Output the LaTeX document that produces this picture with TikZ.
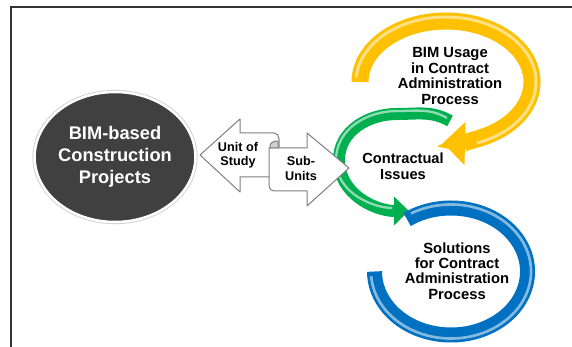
\documentclass[tikz,border=0pt]{standalone}
\usepackage{fontspec}
\setmainfont{Liberation Sans}
\usetikzlibrary{arrows.meta,shapes.geometric}

\begin{document}
\begin{tikzpicture}[x=0.03cm, y=0.03cm]
    % Define colors
    \definecolor{hubgray}{HTML}{404040}
    \definecolor{loopyellow}{HTML}{FFC000}
    \definecolor{loopgreen}{HTML}{00B050}
    \definecolor{loopblue}{HTML}{0070C0}
    \definecolor{edgegray}{HTML}{7F7F7F}

    % Styles for the texts and the shapes
    \tikzset{
      hub/.style={ellipse, fill=hubgray, draw=white, line width=0.075cm, inner sep=0pt,
        minimum width=4.8cm, minimum height=3.9cm, text=white, align=center,
        font=\fontsize{15.6}{18.8}\selectfont\bfseries,
        preaction={draw=gray!35, line width=0.13cm}},
      looptext/.style={align=center, font=\fontsize{12.6}{13.1}\selectfont\bfseries},
      arrowtext/.style={align=center, font=\fontsize{10.8}{12}\selectfont\bfseries},
      scrollbox/.style={fill=white, draw=edgegray, line width=0.03cm, line join=round}
    }

    % Fix the page size
    \useasboundingbox (0,0) rectangle (572,347);

    % Frame line (cut at right and bottom)
    \draw[line width=0.04cm, black!80] (11,0) -- (11,340) -- (572,340);

    % Centres of the loops
    \coordinate (usageC) at (446,265);
    \coordinate (solveC) at (451,75.5);

    % Yellow loop, ends in an arrow pointing left
    \draw[loopyellow, line width=0.51cm, -{Triangle[length=0.66cm, width=1.26cm]}]
      (usageC) ++(180:2.58cm and 1.83cm) arc[start angle=180, end angle=-92, x radius=2.58cm, y radius=1.83cm];
    \draw[loopyellow!35!white, line width=0.09cm, opacity=0.8]
      (usageC) ++(176:2.7cm and 1.95cm) arc[start angle=176, end angle=-70, x radius=2.7cm, y radius=1.95cm];

    % Green loop, ends in an arrow pointing right
    \draw[loopgreen, line width=0.36cm, -{Triangle[length=0.45cm, width=0.84cm]}]
      (450,226) to[out=150, in=0] (397,233) to[out=180, in=90] (339,187) to[out=-90, in=180] (409,136);
    \draw[loopgreen!30!white, line width=0.07cm, opacity=0.8, shorten >=0.5cm]
      (447,229) to[out=150, in=0] (397,236) to[out=180, in=90] (336,187) to[out=-90, in=180] (409,139);

    % Blue loop
    \draw[loopblue, line width=0.45cm]
      (solveC) ++(125:2.295cm and 1.905cm) arc[start angle=125, end angle=-180, x radius=2.295cm, y radius=1.905cm];
    \draw[loopblue!35!white, line width=0.08cm, opacity=0.8]
      (solveC) ++(120:2.4cm and 2.01cm) arc[start angle=120, end angle=-176, x radius=2.4cm, y radius=2.01cm];

    % Central hub
    \node[hub] (projects) at (115,190) {BIM-based\\Construction\\Projects};

    % Left arrow of the scroll
    \filldraw[scrollbox] (270,170) -- (240,170) -- (240,155) -- (200,192) -- (240,228) -- (240,214)
      -- (274,214) to[out=0, in=90] (279,208) -- (279,199) -- (270,199) -- cycle;
    % Right arrow of the scroll
    \filldraw[scrollbox] (269,199) -- (307,199) -- (307,214) -- (349,179) -- (307,141) -- (307,156)
      -- (274,156) to[out=180, in=-90] (269,161) -- cycle;
    % Curl of the scroll
    \filldraw[scrollbox, fill=gray!35] (270,199) -- (278,199) -- (278,206) to[out=180, in=90] (270,201) -- cycle;

    % Texts
    \node[arrowtext] (unit) at (238,192) {Unit of\\Study};
    \node[arrowtext] (sub) at (301,178.5) {Sub-\\Units};
    \node[looptext, font=\fontsize{12.5}{14}\selectfont\bfseries] (issues) at (403,180.5) {Contractual\\Issues};
    \node[looptext] (usage) at (450,271) {BIM Usage\\in Contract\\Administration\\Process};
    \node[looptext] (solutions) at (457,76) {Solutions\\for Contract\\Administration\\Process};
\end{tikzpicture}
\end{document}
